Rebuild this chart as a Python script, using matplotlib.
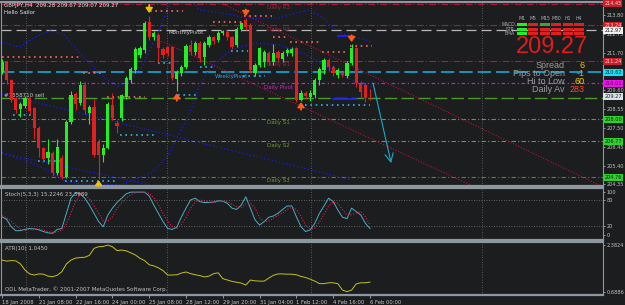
import numpy as np
import matplotlib.pyplot as plt
from matplotlib.patches import Rectangle

# GBPJPY H4 candles (18 Jan - 6 Feb 2008)
opens = [210.63, 211.19, 210.18, 209.17, 208.56, 208.73, 209.17, 208.62, 207.50, 206.38,
         205.82, 206.10, 204.98, 205.82, 204.76, 207.83, 209.40, 208.89, 209.90, 208.34,
         208.67, 206.72, 205.99, 206.38, 208.78, 207.78, 208.06, 209.23, 210.18, 210.74,
         211.58, 211.86, 213.42, 212.58, 212.69, 211.91, 212.02, 212.02, 210.24, 210.57,
         210.91, 212.13, 211.74, 212.25, 211.46, 212.13, 212.58, 212.41, 212.80, 212.86,
         212.58, 212.13, 213.03, 213.55, 213.25, 210.57, 211.02, 211.19, 211.69, 211.19,
         211.74, 211.35, 211.69, 211.69, 211.97, 209.06, 209.45, 209.23, 209.34, 210.18,
         210.74, 211.30, 210.91, 210.46, 210.57, 210.40, 211.13, 211.97, 210.01, 209.90, 209.28]
closes = [211.19, 210.18, 209.06, 208.50, 208.84, 209.17, 208.45, 207.50, 206.38, 205.77,
          206.16, 204.98, 206.44, 204.76, 207.83, 209.34, 208.84, 209.90, 208.50, 208.67,
          205.99, 205.99, 206.38, 208.84, 208.06, 207.61, 209.34, 210.29, 210.79, 211.91,
          211.97, 213.36, 212.58, 212.80, 211.97, 211.58, 211.69, 210.29, 210.63, 210.91,
          212.08, 211.74, 212.25, 211.41, 212.25, 212.58, 212.36, 212.80, 212.92, 212.58,
          212.02, 213.03, 213.36, 213.14, 210.74, 211.02, 211.97, 211.74, 211.19, 211.69,
          211.41, 211.69, 211.86, 211.91, 209.06, 209.45, 209.29, 209.45, 210.18, 210.79,
          211.30, 210.91, 210.57, 210.74, 210.46, 211.13, 211.97, 210.01, 209.51, 209.17, 209.27]
highs = [211.35, 211.25, 210.25, 209.25, 208.95, 209.30, 209.25, 208.70, 207.60, 206.45,
         206.90, 206.20, 206.90, 206.00, 207.95, 209.55, 209.50, 210.10, 210.05, 208.80,
         209.10, 206.90, 206.60, 208.95, 209.45, 207.95, 209.40, 210.40, 210.90, 212.00,
         212.10, 213.50, 213.75, 212.90, 212.80, 212.00, 212.10, 212.10, 210.75, 211.00,
         212.20, 212.40, 212.35, 212.35, 212.35, 212.70, 212.65, 212.90, 213.00, 212.95,
         212.65, 213.15, 213.45, 213.65, 213.35, 211.15, 212.05, 211.85, 211.80, 212.20,
         211.85, 211.80, 211.95, 212.00, 212.05, 209.60, 209.55, 209.60, 210.30, 210.90,
         211.40, 211.40, 211.00, 210.85, 210.65, 211.25, 212.20, 212.05, 210.10, 210.00, 209.67]
lows = [210.50, 209.95, 208.95, 208.35, 208.10, 208.60, 208.30, 206.90, 205.90, 205.60,
        205.50, 204.80, 204.85, 204.65, 204.70, 207.70, 208.50, 208.80, 208.30, 207.70,
        205.90, 204.65, 205.60, 206.30, 207.95, 207.20, 207.90, 209.10, 210.00, 210.60,
        211.40, 211.70, 212.40, 212.40, 211.20, 211.40, 211.50, 210.20, 209.55, 210.40,
        210.80, 211.60, 211.60, 211.20, 211.00, 212.00, 212.20, 212.30, 212.70, 212.40,
        211.90, 212.00, 212.90, 213.00, 210.60, 210.40, 210.90, 210.90, 211.00, 211.00,
        211.20, 211.20, 211.50, 211.50, 208.95, 209.00, 209.10, 209.00, 209.20, 209.90,
        210.50, 210.70, 210.40, 210.30, 210.35, 210.30, 211.00, 209.80, 209.20, 208.95, 209.07]

stoch_main = [42, 36, 19, 10, 10, 13, 15, 14, 12, 8, 5, 4, 13, 15, 50, 85, 98, 95, 85, 69,
              50, 31, 19, 46, 62, 75, 85, 95, 99, 99, 99, 99, 90, 69, 50, 31, 15, 13, 18, 42,
              62, 81, 85, 77, 75, 75, 76, 79, 78, 73, 62, 59, 69, 88, 62, 35, 23, 31, 41, 44,
              50, 59, 67, 67, 42, 19, 8, 12, 27, 50, 67, 85, 77, 58, 41, 38, 62, 54, 46, 27, 15]
stoch_signal = [45, 40, 32, 22, 13, 11, 13, 14, 14, 11, 8, 6, 7, 11, 26, 50, 78, 93, 93, 83,
                68, 50, 33, 32, 42, 61, 74, 85, 93, 98, 99, 99, 96, 86, 70, 50, 32, 20, 15, 24,
                41, 62, 76, 81, 79, 76, 75, 77, 78, 77, 71, 65, 63, 72, 73, 62, 40, 30, 32, 39,
                45, 51, 59, 64, 59, 43, 23, 13, 16, 30, 48, 67, 76, 73, 59, 46, 47, 51, 54, 42, 23]
atr = [1.84, 1.80, 1.82, 1.81, 1.70, 1.48, 1.34, 1.30, 1.34, 1.33, 1.26, 1.24, 1.29, 1.42,
       1.70, 1.84, 1.91, 1.93, 1.94, 2.01, 2.26, 2.32, 2.33, 2.38, 2.32, 2.18, 2.20, 2.17,
       2.10, 2.02, 1.90, 1.82, 1.67, 1.63, 1.56, 1.46, 1.30, 1.30, 1.31, 1.37, 1.41, 1.35,
       1.31, 1.28, 1.23, 1.26, 1.35, 1.38, 1.17, 1.12, 1.07, 1.04, 1.01, 0.94, 1.12, 1.09,
       1.08, 1.08, 1.19, 1.29, 1.34, 1.34, 1.33, 1.33, 1.31, 1.25, 1.21, 1.15, 1.08, 0.99,
       0.99, 1.02, 1.02, 0.99, 0.76, 0.70, 0.76, 0.98, 1.02, 1.02, 1.045]

date_ticks = [0, 8, 16, 24, 32, 40, 48, 56, 64, 72, 80]
date_labels = ['18 Jan 2008', '21 Jan 08:00', '22 Jan 16:00', '24 Jan 00:00', '25 Jan 08:00',
               '28 Jan 12:00', '29 Jan 20:00', '31 Jan 04:00', '1 Feb 12:00', '4 Feb 16:00',
               '6 Feb 00:00']
grid_bars = [5.2, 35.9, 67.2, 104.3]
price_ticks = [204.35, 205.40, 206.45, 207.50, 208.55, 209.60, 211.70, 212.75, 213.80]

# pivot / level lines: (price, colour, dash pattern, width, box colour, box text colour)
levels = [
    (214.45, '#b0183c', (0, (6, 2, 1, 2)), 0.8, '#c8202a', '#f0d0d0'),
    (213.24, '#b0183c', (0, (6, 2, 1, 2)), 0.8, '#c8202a', '#f0d0d0'),
    (212.97, '#b8b8b8', (0, (8, 4)), 0.9, '#f0f0f0', '#202020'),
    (211.24, '#b0183c', (0, (6, 2, 1, 2)), 0.8, '#c8202a', '#f0d0d0'),
    (210.62, '#18a8d8', (0, (8, 3)), 1.2, '#10e0f8', '#102030'),
    (210.01, '#c020c0', (0, (3, 2, 1, 2)), 0.9, '#f010f0', '#301030'),
    (209.20, '#4a9a2a', (0, (9, 3)), 1.0, None, None),
    (208.00, '#6a9a3a', (0, (4, 2, 1, 2)), 0.8, '#30d030', '#102010'),
    (206.77, '#6a9a3a', (0, (4, 2, 1, 2)), 0.8, '#30d030', '#102010'),
    (204.76, '#6a6a6a', (0, (4, 2, 1, 2)), 0.8, '#30d030', '#102010'),
]
level_texts = [('Daily R3', 57.6, 214.26, '#b0203c'), ('Daily R2', 57.6, 213.03, '#b0203c'),
               ('Daily R1', 57.6, 211.07, '#b0203c'), ('Daily Pivot', 57.0, 209.79, '#c030c0'),
               ('Daily S1', 57.6, 207.78, '#6aa030'), ('Daily S2', 57.6, 206.55, '#6aa030'),
               ('Daily S3', 57.6, 204.54, '#6aa030'), ('MonthlyPivot', 36.1, 212.81, '#c8c8c8'),
               ('WeeklyPivot', 46.3, 210.40, '#20a8e0'), ('#7558710 sell', 0.4, 209.34, '#c8c8c8')]

# dotted support / resistance stubs: (bar start, bar end, price)
res_dots = [(0, 17.2, 211.46), (17.6, 22.0, 210.57), (22.8, 31.1, 209.23), (32.2, 39.3, 214.04),
            (45.9, 52.2, 213.42), (52.6, 58.7, 213.76), (58.9, 62.2, 212.58), (62.6, 69.1, 212.30),
            (69.6, 75.2, 211.74), (75.7, 80.4, 212.08)]
sup_dots = [(2.4, 7.2, 208.22), (7.8, 13.0, 205.65), (13.7, 25.0, 204.53), (25.7, 33.3, 207.11),
            (33.9, 37.2, 211.13), (38.3, 42.4, 209.34), (43.0, 46.3, 210.91), (49.8, 53.5, 211.80),
            (52.4, 57.2, 210.40), (65.9, 80.0, 208.78)]
blue_stubs = [(73.0, 76.3, 212.64), (72.0, 77.0, 209.12)]

# band curves
upper_x = [0, 3.9, 7.2, 10.4, 13.3, 16.3, 19.8, 22.8, 25.2, 27.4, 30.4, 33.9, 36.1, 37.0,
           40.9, 42.8, 48.0, 53.3, 60.2, 63.7, 66.3, 68.9, 73.3, 79.3, 80.4]
upper_p = [212.30, 212.02, 212.58, 212.92, 212.75, 211.86, 210.91, 210.18, 209.84, 210.07,
           210.91, 212.80, 214.26, 214.76, 214.76, 214.09, 213.92, 213.64, 213.64, 213.92,
           214.09, 213.81, 212.81, 212.41, 212.30]
lower_x = [0, 6.1, 11.1, 14.1, 17.6, 21.3, 25.7, 32.4, 35.9, 41.1, 42.8, 45.4, 49.8, 55.0,
           60.2, 65.4, 70.7, 75.9, 80.4]
lower_p = [206.10, 205.60, 204.98, 204.48, 204.37, 204.37, 204.31, 204.98, 205.87, 208.50,
           209.79, 210.91, 211.86, 212.25, 212.13, 211.69, 210.91, 210.18, 209.79]
trend_lines = [((0, 34.4), (206.10, 204.20)), ((0, 76.0), (209.40, 204.60))]
channel = [((48.0, 130.7), (214.43, 204.20)), ((34.1, 102.8), (212.42, 204.20))]

# fractal arrows: (bar, tip, tail, colour)
arrows = [(21, 204.59, 204.28, '#f0c000'), (32, 213.92, 214.37, '#f0c000'),
          (38, 209.45, 209.02, '#ff5a1a'), (53, 213.75, 214.12, '#ff5a1a'),
          (65, 208.95, 208.52, '#ff5a1a'), (76, 212.30, 212.68, '#ff5a1a')]

BG = '#1b1d1e'
W, H = 625, 305
GRAY = '#c4c4c4'


def px(x0, y0, x1, y1):
    return [x0 / W, 1 - y1 / H, (x1 - x0) / W, (y1 - y0) / H]


fig = plt.figure(figsize=(6.25, 3.05), dpi=100, facecolor=BG)
ax = fig.add_axes(px(1, 2, 603, 186))
ax_st = fig.add_axes(px(1, 188, 603, 240))
ax_atr = fig.add_axes(px(1, 242, 603, 295))

for a in (ax, ax_st, ax_atr):
    a.set_facecolor(BG)
    a.set_xlim(-0.22, 130.65)
    for s in a.spines.values():
        s.set_color('#8c989e')
        s.set_linewidth(0.8)
    a.spines['bottom'].set_linewidth(1.6)
    a.spines['top'].set_linewidth(1.6)
    a.yaxis.tick_right()
    a.tick_params(axis='y', colors=GRAY, labelsize=3.6, length=1.5, width=0.5, pad=1)
    a.tick_params(axis='x', colors=GRAY, labelsize=3.8, length=2, width=0.5, pad=1.5)
    for g in grid_bars:
        a.axvline(g, color='#6e6e6e', lw=0.6, ls=(0, (1, 2)), zorder=1)

# main price pane
ax.set_ylim(204.26, 214.54)
ax.set_xticks([])
ax.set_yticks(price_ticks)
ax.set_yticklabels(['%.2f' % t for t in price_ticks])

for p, c, ls, lw, bc, tc in levels:
    ax.axhline(p, color=c, ls=ls, lw=lw, zorder=1.5)
    if bc:
        ax.text(1.002, p, '%.2f' % p, transform=ax.get_yaxis_transform(), fontsize=3.6,
                color=tc, va='center', ha='left', zorder=6, clip_on=False,
                bbox=dict(boxstyle='square,pad=0.2', fc=bc, ec='none'))
ax.text(1.002, 209.27, '209.27', transform=ax.get_yaxis_transform(), fontsize=3.6,
        color='#202020', va='center', ha='left', zorder=7, clip_on=False,
        bbox=dict(boxstyle='square,pad=0.2', fc='#d8e4ea', ec='none'))

for t, x, y, c in level_texts:
    ax.text(x, y, t, fontsize=4, color=c, va='center', ha='left', zorder=4)

ax.plot(upper_x, upper_p, color='#1a1aff', lw=0.9, ls=(0, (1, 2)), zorder=2)
ax.plot(lower_x, lower_p, color='#1a1aff', lw=0.9, ls=(0, (1, 2)), zorder=2)
for xs, ps in trend_lines:
    ax.plot(xs, ps, color='#1a1aff', lw=0.9, ls=(0, (1, 2)), zorder=2)
for xs, ps in channel:
    ax.plot(xs, ps, color='#c0103c', lw=0.8, ls=(0, (1, 1.5)), zorder=2)

for a0, a1, p in res_dots:
    ax.plot([a0, a1], [p, p], color='#ff6a50', lw=1.2, ls=(0, (1, 2.2)), zorder=3)
for a0, a1, p in sup_dots:
    ax.plot([a0, a1], [p, p], color='#30b4e8', lw=1.2, ls=(0, (1, 2.2)), zorder=3)
for a0, a1, p in blue_stubs:
    ax.plot([a0, a1], [p, p], color='#2020ff', lw=1.3, zorder=3)

bars = np.arange(len(opens))
o = np.array(opens)
c = np.array(closes)
up = c >= o
cols = np.where(up, '#22f022', '#e02020')
ax.vlines(bars, lows, highs, colors=cols, lw=0.8, zorder=4)
body = np.maximum(np.abs(c - o), 0.04)
ax.bar(bars, body, bottom=np.minimum(o, c), width=0.66, color=cols, lw=0, zorder=5)

for b, tip, tail, col in arrows:
    ax.annotate('', xy=(b, tip), xytext=(b, tail), zorder=6,
                arrowprops=dict(arrowstyle='-|>,head_width=0.2,head_length=0.28',
                                color=col, lw=1.3, shrinkA=0, shrinkB=0))
ax.annotate('', xy=(84.6, 205.54), xytext=(80.65, 210.01), zorder=6,
            arrowprops=dict(arrowstyle='->,head_width=0.3,head_length=0.6',
                            color='#1ca8d0', lw=0.8, shrinkA=0, shrinkB=0))

# stochastic pane
ax_st.set_ylim(-11.5, 108.5)
ax_st.set_xticks([])
ax_st.set_yticks([0, 20, 80, 100])
for lv in (20, 80):
    ax_st.axhline(lv, color='#7a7a7a', lw=0.6, ls=(0, (1, 2)))
ax_st.plot(bars, stoch_main, color='#4aaec8', lw=0.7, zorder=3)
ax_st.plot(bars, stoch_signal, color='#e0204a', lw=0.8, ls=(0, (1, 1.5)), zorder=3)
ax_st.text(0.006, 0.93, 'Stoch(5,3,3) 15.2246 23.3989', transform=ax_st.transAxes,
           fontsize=4, color=GRAY, va='top')

# ATR pane
ax_atr.set_ylim(0.58, 2.49)
ax_atr.set_yticks([0.6886, 2.3824])
ax_atr.set_yticklabels(['0.6886', '2.3824'])
ax_atr.plot(bars, atr, color='#c8c020', lw=0.7, zorder=3)
ax_atr.set_xticks(date_ticks)
ax_atr.set_xticklabels(date_labels, ha='left')
ax_atr.text(0.006, 0.93, 'ATR(10) 1.0450', transform=ax_atr.transAxes,
            fontsize=4, color=GRAY, va='top')
ax_atr.text(0.006, 0.06, 'ODL MetaTrader, \u00a9 2001-2007 MetaQuotes Software Corp.',
            transform=ax_atr.transAxes, fontsize=4, color=GRAY, va='bottom')

# header text
fig.text(4 / W, 1 - 5 / H, 'GBPJPY,H4  209.28 209.67 209.07 209.27', fontsize=4,
         color='#e0e0e0', va='center')
fig.text(4 / W, 1 - 12 / H, 'Hello Sailor', fontsize=4, color='#e0e0e0', va='center')

# trend matrix panel
tf_names = ['M1', 'M5', 'M15', 'M30', 'H1', 'H4']
tf_x = [522, 533, 545, 556, 568, 579]
rows = ['MACD', 'STR', 'EMA']
row_y = [24.7, 29.2, 33.7]
cell_colours = [['#22f022', '#dd2020', '#40a040', '#dd2020', '#dd2020', '#dd2020'],
                ['#22f022', '#dd2020', '#dd2020', '#dd2020', '#dd2020', '#dd2020'],
                ['#22f022', '#dd2020', '#dd2020', '#dd2020', '#dd2020', '#dd2020']]
for name, x in zip(tf_names, tf_x):
    fig.text(x / W, 1 - 18 / H, name, fontsize=3.3, color='#b0b0b0', ha='center', va='center')
for r, (name, y) in enumerate(zip(rows, row_y)):
    fig.text(515 / W, 1 - y / H, name, fontsize=3.3, color='#b0b0b0', ha='right', va='center')
    for k, x in enumerate(tf_x):
        fig.add_artist(Rectangle(((x - 5) / W, 1 - (y + 1.6) / H), 10 / W, 3.2 / H,
                                 transform=fig.transFigure, fc=cell_colours[r][k], ec='none'))

fig.text(552 / W, 1 - 47 / H, '209.27', fontsize=17, color='#e01c1c', ha='center',
         va='center', family='Liberation Sans')
info = [('Spread', '6', '#f0c020', 65), ('Pips to Open', '-1', '#ff8c1a', 73),
        ('Hi to Low', '60', '#f0d000', 81), ('Daily Av', '283', '#ff4a2a', 90)]
for lab, val, vc, y in info:
    fig.text(565 / W, 1 - y / H, lab, fontsize=6.5, color='#9c9c9c', ha='right',
             va='center', family='Liberation Sans')
    fig.text(585 / W, 1 - y / H, val, fontsize=6.5, color=vc, ha='right',
             va='center', family='Liberation Sans')

fig.savefig('out.png', dpi=100, facecolor=BG)
